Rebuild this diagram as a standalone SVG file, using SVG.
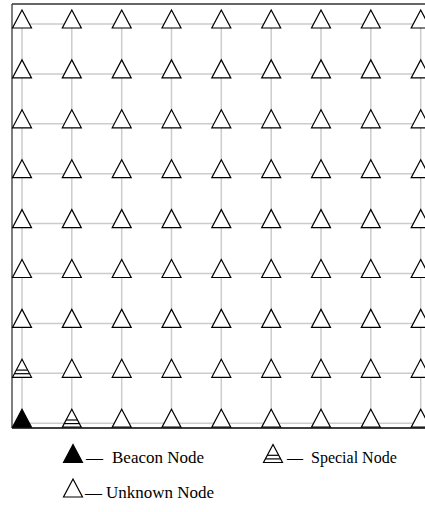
<svg xmlns="http://www.w3.org/2000/svg" width="425" height="512" viewBox="0 0 425 512">
<style>
.grid{stroke:#cccccc;stroke-width:1.5;fill:none}
.tri{fill:#ffffff;stroke:#000000;stroke-width:1.2;stroke-linejoin:miter}
.beacon{fill:#000000;stroke:#000000;stroke-width:1.2}
.hatch{stroke:#000000;stroke-width:1.2}
.lbl{font-family:"Liberation Serif","Times New Roman",serif;font-size:17px;fill:#000}
.lbls{font-family:"Liberation Serif","Times New Roman",serif;font-size:16px;fill:#000}
</style>
<defs>
<path id="t" class="tri" d="M0,-14 L9.5,4 L-9.5,4 Z"/>
<path id="b" class="beacon" d="M0,-14 L9.5,4 L-9.5,4 Z"/>
<g id="s"><path class="tri" d="M0,-14 L9.5,4 L-9.5,4 Z"/><line class="hatch" x1="-5.7" y1="-3.2" x2="5.7" y2="-3.2"/><line class="hatch" x1="-7.6" y1="0.4" x2="7.6" y2="0.4"/></g>
</defs>
<g id="connectors">
<g class="grid">
<path d="M22,24H421M22,73.9H421M22,123.8H421M22,173.7H421M22,223.6H421M22,273.5H421M22,323.4H421M22,373.3H421M22,423.2H421"/>
<path d="M22,24V423.2M71.8,24V423.2M121.7,24V423.2M171.5,24V423.2M221.3,24V423.2M271.2,24V423.2M321,24V423.2M370.8,24V423.2M420.7,24V423.2"/>
</g>
<path d="M12,4V428" stroke="#555555" stroke-width="1.5" fill="none"/>
<path d="M12,4H425" stroke="#333333" stroke-width="1.5" fill="none"/>
<path d="M12,428H425" stroke="#000000" stroke-width="1.5" fill="none"/>
</g>
<g id="nodes">
<g id="row0"><use href="#t" x="22" y="24"/><use href="#t" x="71.8" y="24"/><use href="#t" x="121.7" y="24"/><use href="#t" x="171.5" y="24"/><use href="#t" x="221.3" y="24"/><use href="#t" x="271.2" y="24"/><use href="#t" x="321" y="24"/><use href="#t" x="370.8" y="24"/><use href="#t" x="420.7" y="24"/></g>
<g id="row1"><use href="#t" x="22" y="73.9"/><use href="#t" x="71.8" y="73.9"/><use href="#t" x="121.7" y="73.9"/><use href="#t" x="171.5" y="73.9"/><use href="#t" x="221.3" y="73.9"/><use href="#t" x="271.2" y="73.9"/><use href="#t" x="321" y="73.9"/><use href="#t" x="370.8" y="73.9"/><use href="#t" x="420.7" y="73.9"/></g>
<g id="row2"><use href="#t" x="22" y="123.8"/><use href="#t" x="71.8" y="123.8"/><use href="#t" x="121.7" y="123.8"/><use href="#t" x="171.5" y="123.8"/><use href="#t" x="221.3" y="123.8"/><use href="#t" x="271.2" y="123.8"/><use href="#t" x="321" y="123.8"/><use href="#t" x="370.8" y="123.8"/><use href="#t" x="420.7" y="123.8"/></g>
<g id="row3"><use href="#t" x="22" y="173.7"/><use href="#t" x="71.8" y="173.7"/><use href="#t" x="121.7" y="173.7"/><use href="#t" x="171.5" y="173.7"/><use href="#t" x="221.3" y="173.7"/><use href="#t" x="271.2" y="173.7"/><use href="#t" x="321" y="173.7"/><use href="#t" x="370.8" y="173.7"/><use href="#t" x="420.7" y="173.7"/></g>
<g id="row4"><use href="#t" x="22" y="223.6"/><use href="#t" x="71.8" y="223.6"/><use href="#t" x="121.7" y="223.6"/><use href="#t" x="171.5" y="223.6"/><use href="#t" x="221.3" y="223.6"/><use href="#t" x="271.2" y="223.6"/><use href="#t" x="321" y="223.6"/><use href="#t" x="370.8" y="223.6"/><use href="#t" x="420.7" y="223.6"/></g>
<g id="row5"><use href="#t" x="22" y="273.5"/><use href="#t" x="71.8" y="273.5"/><use href="#t" x="121.7" y="273.5"/><use href="#t" x="171.5" y="273.5"/><use href="#t" x="221.3" y="273.5"/><use href="#t" x="271.2" y="273.5"/><use href="#t" x="321" y="273.5"/><use href="#t" x="370.8" y="273.5"/><use href="#t" x="420.7" y="273.5"/></g>
<g id="row6"><use href="#t" x="22" y="323.4"/><use href="#t" x="71.8" y="323.4"/><use href="#t" x="121.7" y="323.4"/><use href="#t" x="171.5" y="323.4"/><use href="#t" x="221.3" y="323.4"/><use href="#t" x="271.2" y="323.4"/><use href="#t" x="321" y="323.4"/><use href="#t" x="370.8" y="323.4"/><use href="#t" x="420.7" y="323.4"/></g>
<g id="row7"><use href="#s" x="22" y="373.3"/><use href="#t" x="71.8" y="373.3"/><use href="#t" x="121.7" y="373.3"/><use href="#t" x="171.5" y="373.3"/><use href="#t" x="221.3" y="373.3"/><use href="#t" x="271.2" y="373.3"/><use href="#t" x="321" y="373.3"/><use href="#t" x="370.8" y="373.3"/><use href="#t" x="420.7" y="373.3"/></g>
<g id="row8"><use href="#b" x="22" y="423.2"/><use href="#s" x="71.8" y="423.2"/><use href="#t" x="121.7" y="423.2"/><use href="#t" x="171.5" y="423.2"/><use href="#t" x="221.3" y="423.2"/><use href="#t" x="271.2" y="423.2"/><use href="#t" x="321" y="423.2"/><use href="#t" x="370.8" y="423.2"/><use href="#t" x="420.7" y="423.2"/></g>
</g>
<g id="legend">
<g id="legend-beacon"><use href="#b" x="73" y="458.5"/><text class="lbl" x="86" y="463">—</text><text class="lbl" x="112" y="463">Beacon Node</text></g>
<g id="legend-special"><use href="#s" x="273" y="458.5"/><text class="lbls" x="287" y="463">—</text><text class="lbls" x="311" y="463">Special Node</text></g>
<g id="legend-unknown"><use href="#t" x="73" y="493"/><text class="lbl" x="85" y="498">—</text><text class="lbl" x="106" y="498">Unknown Node</text></g>
</g>
</svg>
